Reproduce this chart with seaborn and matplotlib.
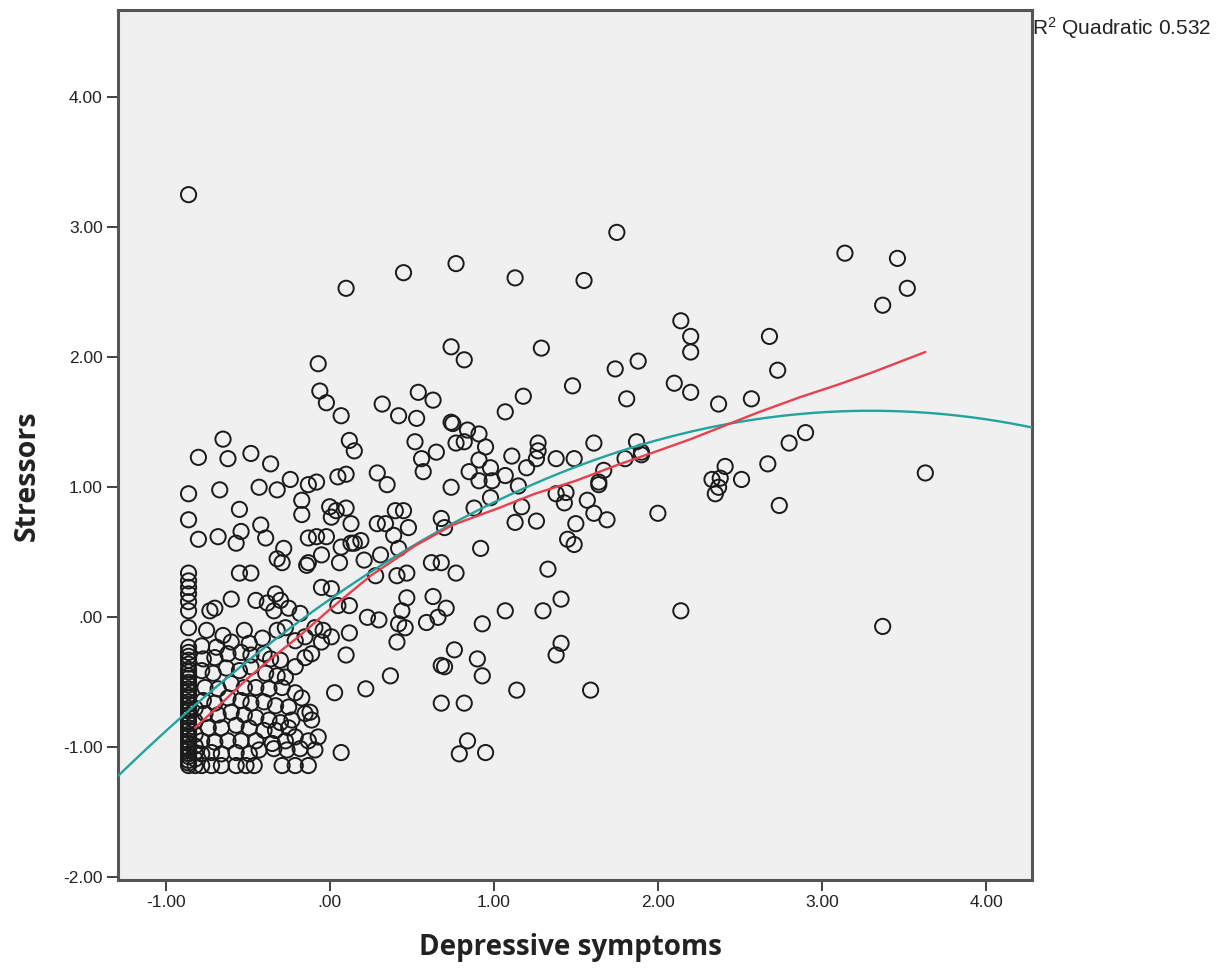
import numpy as np
import pandas as pd
import matplotlib
matplotlib.use("Agg")
import matplotlib.pyplot as plt
import seaborn as sns

# ---------------- data ----------------
# outliers / upper region
dep_upper = [-0.86, 0.10, 0.45, 0.77, 1.13, 1.55, 1.75, 3.14, 3.46, 3.52, 3.37]
str_upper = [3.25, 2.53, 2.65, 2.72, 2.61, 2.59, 2.96, 2.80, 2.76, 2.53, 2.40]

# right region
dep_right = [2.68, 2.73, 2.57, 2.37, 2.90, 2.80, 2.67, 2.41, 2.33, 2.38, 2.37, 2.35, 2.51, 2.74, 3.63, 3.37,
             2.14, 2.20, 2.20, 1.29, 1.74, 1.88, 2.10, 2.20, 1.48, 1.18, 1.07, 1.81, 1.27, 1.61, 1.87, 1.90]
str_right = [2.16, 1.90, 1.68, 1.64, 1.42, 1.34, 1.18, 1.16, 1.06, 1.07, 1.00, 0.95, 1.06, 0.86, 1.11, -0.07,
             2.28, 2.16, 2.04, 2.07, 1.91, 1.97, 1.80, 1.73, 1.78, 1.70, 1.58, 1.68, 1.34, 1.34, 1.35, 1.27]

# x between 1 and 2.2
dep_mid2 = [1.11, 1.26, 1.27, 1.38, 1.49, 1.20, 1.07, 1.15, 1.80, 1.90, 1.67, 1.64, 1.64, 1.38, 1.44, 1.43,
            1.57, 1.61, 1.69, 1.17, 1.13, 1.26, 1.50, 1.45, 1.49, 2.00, 1.33, 1.41, 1.30, 1.07, 2.14, 1.41,
            1.38, 1.14, 1.59]
str_mid2 = [1.24, 1.22, 1.28, 1.22, 1.22, 1.15, 1.09, 1.01, 1.22, 1.25, 1.13, 1.04, 1.02, 0.95, 0.96, 0.88,
            0.90, 0.80, 0.75, 0.85, 0.73, 0.74, 0.72, 0.60, 0.56, 0.80, 0.37, 0.14, 0.05, 0.05, 0.05, -0.20,
            -0.29, -0.56, -0.56]

# x between 0.2 and 1, upper
dep_mid1 = [0.74, 0.82, 0.54, 0.63, 0.32, 0.42, 0.53, 0.74, 0.75, 0.84, 0.91, 0.95, 0.77, 0.82, 0.52, 0.56,
            0.57, 0.65, 0.91, 0.98, 0.85, 0.91, 0.99, 0.29, 0.35, 0.74, 0.98, 0.40, 0.45, 0.29, 0.34, 0.48,
            0.68, 0.70, 0.88, 0.39]
str_mid1 = [2.08, 1.98, 1.73, 1.67, 1.64, 1.55, 1.53, 1.50, 1.49, 1.44, 1.41, 1.31, 1.34, 1.35, 1.35, 1.22,
            1.12, 1.27, 1.21, 1.15, 1.12, 1.05, 1.05, 1.11, 1.02, 1.00, 0.92, 0.82, 0.82, 0.72, 0.72, 0.69,
            0.76, 0.69, 0.84, 0.63]

# x between 0 and 1, lower
dep_low1 = [0.15, 0.19, 0.21, 0.31, 0.42, 0.28, 0.41, 0.47, 0.62, 0.68, 0.77, 0.92, 0.05, 0.12, 0.23, 0.30,
            0.47, 0.44, 0.42, 0.46, 0.41, 0.63, 0.71, 0.66, 0.59, 0.93, 0.01, 0.12, 0.10, 0.37, 0.22, 0.03,
            0.76, 0.90, 0.68, 0.70, 0.93, 0.68, 0.82, 0.07, 0.79, 0.84, 0.95]
str_low1 = [0.57, 0.59, 0.44, 0.48, 0.53, 0.32, 0.32, 0.34, 0.42, 0.42, 0.34, 0.53, 0.09, 0.09, 0.00, -0.02,
            0.15, 0.05, -0.05, -0.08, -0.19, 0.16, 0.07, 0.00, -0.04, -0.05, -0.15, -0.12, -0.29, -0.45, -0.55, -0.58,
            -0.25, -0.32, -0.37, -0.38, -0.45, -0.66, -0.66, -1.04, -1.05, -0.95, -1.04]

# around zero
dep_zero = [-0.07, -0.06, -0.02, 0.07, 0.12, 0.15, 0.05, 0.10, 0.00, 0.04, 0.10, 0.01, 0.13, -0.13, -0.08,
            -0.02, 0.07, 0.13, -0.05, -0.14, 0.06, -0.05, 0.01]
str_zero = [1.95, 1.74, 1.65, 1.55, 1.36, 1.28, 1.08, 1.10, 0.85, 0.82, 0.84, 0.77, 0.72, 0.61, 0.62,
            0.62, 0.54, 0.57, 0.48, 0.40, 0.42, 0.23, 0.22]

# left, upper
dep_left_up = [-0.65, -0.80, -0.62, -0.48, -0.36, -0.86, -0.67, -0.43, -0.32, -0.24, -0.13, -0.08, -0.17,
               -0.17, -0.86, -0.55, -0.42, -0.54, -0.80, -0.68, -0.39, -0.57, -0.28, -0.32, -0.29, -0.13,
               -0.55, -0.48, -0.60, -0.73, -0.70, -0.45, -0.38, -0.33, -0.34, -0.30, -0.25, -0.18]
str_left_up = [1.37, 1.23, 1.22, 1.26, 1.18, 0.95, 0.98, 1.00, 0.98, 1.06, 1.02, 1.04, 0.90,
               0.79, 0.75, 0.83, 0.71, 0.66, 0.60, 0.62, 0.61, 0.57, 0.53, 0.45, 0.42, 0.42,
               0.34, 0.34, 0.14, 0.05, 0.07, 0.13, 0.11, 0.18, 0.05, 0.13, 0.07, 0.03]

# left, dense block
dep_left_low = [-0.09, -0.04, -0.05, -0.75, -0.65, -0.52, -0.78, -0.69, -0.60, -0.49, -0.41, -0.32, -0.27,
                -0.21, -0.15,
                -0.77, -0.70, -0.62, -0.54, -0.48, -0.40, -0.36, -0.30, -0.21, -0.15, -0.11,
                -0.78, -0.71, -0.63, -0.55, -0.48, -0.39, -0.32, -0.27,
                -0.76, -0.68, -0.60, -0.52, -0.45, -0.37, -0.29, -0.21,
                -0.77, -0.70, -0.62, -0.54, -0.48, -0.40, -0.33, -0.25, -0.17, -0.12,
                -0.76, -0.68, -0.60, -0.52, -0.45, -0.37, -0.30, -0.23, -0.15,
                -0.74, -0.66, -0.57, -0.49, -0.40, -0.33, -0.25, -0.11,
                -0.78, -0.70, -0.62, -0.54, -0.45, -0.35, -0.27, -0.21, -0.13, -0.07,
                -0.78, -0.72, -0.66, -0.57, -0.49, -0.43, -0.34, -0.26, -0.18, -0.09,
                -0.78, -0.72, -0.66, -0.57, -0.51, -0.46, -0.29, -0.21, -0.13,
                -0.82, -0.82, -0.82, -0.82, -0.82, -0.82, -0.82]
str_left_low = [-0.08, -0.10, -0.19, -0.10, -0.14, -0.10, -0.22, -0.23, -0.19, -0.20, -0.16, -0.10, -0.08,
                -0.18, -0.15,
                -0.32, -0.31, -0.28, -0.27, -0.29, -0.28, -0.32, -0.33, -0.38, -0.31, -0.28,
                -0.41, -0.43, -0.39, -0.41, -0.38, -0.43, -0.45, -0.46,
                -0.54, -0.55, -0.51, -0.54, -0.54, -0.55, -0.54, -0.58,
                -0.64, -0.66, -0.62, -0.64, -0.66, -0.65, -0.68, -0.69, -0.62, -0.73,
                -0.74, -0.75, -0.73, -0.75, -0.77, -0.79, -0.81, -0.79, -0.74,
                -0.85, -0.85, -0.83, -0.85, -0.87, -0.87, -0.85, -0.79,
                -0.95, -0.96, -0.95, -0.95, -0.95, -0.97, -0.95, -0.92, -0.95, -0.92,
                -1.05, -1.04, -1.05, -1.04, -1.05, -1.02, -1.01, -1.02, -1.01, -1.02,
                -1.14, -1.14, -1.14, -1.14, -1.14, -1.14, -1.14, -1.14, -1.14,
                -1.14, -1.09, -1.04, -0.99, -0.90, -0.80, -0.70]

# column of minimum depressive score
str_col = [0.34, 0.28, 0.23, 0.18, 0.12, 0.05, -0.08, -0.23, -0.27, -0.30, -0.33, -0.36, -0.40, -0.42,
           -0.45, -0.47, -0.50, -0.52, -0.55, -0.57, -0.60, -0.62, -0.65, -0.67, -0.70, -0.72, -0.75,
           -0.77, -0.80, -0.82, -0.85, -0.87, -0.90, -0.92, -0.95, -0.97, -1.00, -1.02, -1.05, -1.07,
           -1.10, -1.12, -1.14]
dep_col = [-0.86] * len(str_col)

# quadratic fit (coefficients: c0 + c1*x + c2*x^2)
quad_coef = [0.137, 0.880, -0.1334]

# red fit line, read along its path
fit_x = [-0.82, -0.65, -0.50, -0.35, -0.19, 0.00, 0.25, 0.52, 0.75, 1.03, 1.25, 1.50, 1.75, 2.00,
         2.20, 2.40, 2.60, 2.86, 3.10, 3.30, 3.63]
fit_y = [-0.85, -0.65, -0.47, -0.31, -0.15, 0.06, 0.32, 0.55, 0.71, 0.84, 0.95, 1.05, 1.17, 1.28,
         1.37, 1.47, 1.57, 1.69, 1.79, 1.88, 2.04]

x_ticks = [-1, 0, 1, 2, 3, 4]
x_tick_labels = ["-1.00", ".00", "1.00", "2.00", "3.00", "4.00"]
y_ticks = [-2, -1, 0, 1, 2, 3, 4]
y_tick_labels = ["-2.00", "-1.00", ".00", "1.00", "2.00", "3.00", "4.00"]
x_label = "Depressive symptoms"
y_label = "Stressors"
r2_label = r"R$^2$ Quadratic 0.532"

# ---------------- assemble ----------------
depressive = (dep_upper + dep_right + dep_mid2 + dep_mid1 + dep_low1 + dep_zero + dep_left_up
              + dep_left_low + dep_col)
stressors = (str_upper + str_right + str_mid2 + str_mid1 + str_low1 + str_zero + str_left_up
             + str_left_low + str_col)
df = pd.DataFrame({"Depressive symptoms": depressive, "Stressors": stressors})
fit_df = pd.DataFrame({"x": fit_x, "y": fit_y})

sns.set_theme(style="white")
plt.rcParams["font.family"] = ["Liberation Sans", "DejaVu Sans"]
plt.rcParams["mathtext.fontset"] = "custom"
plt.rcParams["mathtext.rm"] = "Liberation Sans"
plt.rcParams["mathtext.it"] = "Liberation Sans"

W, H = 1232, 973
fig = plt.figure(figsize=(W / 100, H / 100), dpi=100)
fig.patch.set_facecolor("white")
ax = fig.add_axes([118 / W, 1 - 880 / H, (1032 - 118) / W, (880 - 10) / H])
ax.set_facecolor("#F0F0F0")
xlim = (-1.29, 4.28)
ax.set_xlim(*xlim)
ax.set_ylim(-2.02, 4.67)

sns.scatterplot(data=df, x="Depressive symptoms", y="Stressors", ax=ax, marker="o", s=120,
                edgecolor="#1a1a1a", linewidth=1.4, zorder=3)
ax.collections[-1].set_facecolor("none")

# quadratic curve over the full axis range
grid = np.linspace(xlim[0], xlim[1], 300)
quad_df = pd.DataFrame({"x": grid, "y": np.polynomial.polynomial.polyval(grid, quad_coef)})
sns.lineplot(data=quad_df, x="x", y="y", ax=ax, color="#22A39C", lw=1.7, zorder=4)
sns.lineplot(data=fit_df, x="x", y="y", ax=ax, color="#E8404E", lw=1.7, zorder=5)

ax.set_xticks(x_ticks)
ax.set_xticklabels(x_tick_labels, fontsize=12.5, color="#222222")
ax.set_yticks(y_ticks)
ax.set_yticklabels(y_tick_labels, fontsize=12.5, color="#222222")
ax.tick_params(axis="both", direction="out", length=8, width=1.3, color="#333333",
               bottom=True, left=True, pad=3)
for sp in ax.spines.values():
    sp.set_visible(True)
    sp.set_color("#555555")
    sp.set_linewidth(2.2)

ax.set_xlabel(x_label, fontsize=20, fontweight="bold", family="Open Sans", color="#222222")
ax.set_ylabel(y_label, fontsize=20.5, fontweight="bold", family="Open Sans", color="#222222")
ax.xaxis.set_label_coords((570 - 118) / (1032 - 118), -(948 - 880) / 870, transform=ax.transAxes)
ax.yaxis.set_label_coords(-(118 - 27) / (1032 - 118), (880 - 476) / 870, transform=ax.transAxes)
ax.xaxis.label.set_va("center")
ax.yaxis.label.set_va("center")

fig.text(1032 / W, 1 - 28 / H, r2_label, fontsize=15, ha="left", va="center", color="#222222")

fig.savefig("out.png", dpi=100, facecolor="white")
